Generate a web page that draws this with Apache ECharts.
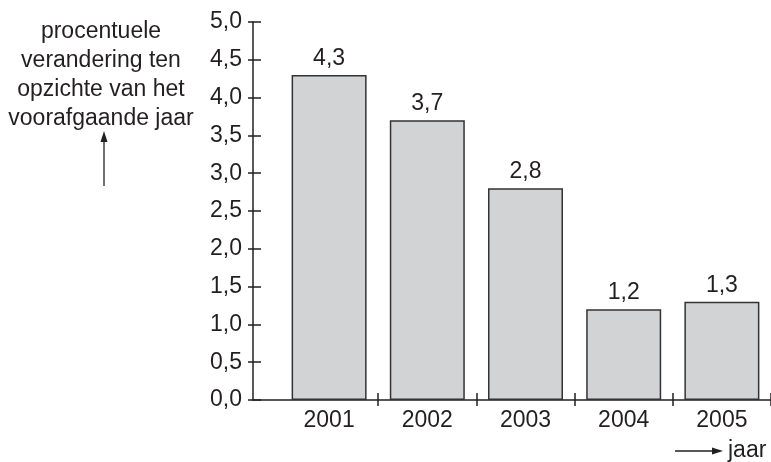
<!DOCTYPE html>
<html><head><meta charset="utf-8">
<script src="https://cdn.jsdelivr.net/npm/echarts/dist/echarts.min.js"></script>
<style>html,body{margin:0;padding:0;background:#fff}#c{width:771px;height:462px}</style>
</head><body><div id="c"></div>
<script>
const years = ['2001', '2002', '2003', '2004', '2005'];
const values = [4.3, 3.7, 2.8, 1.2, 1.3];
const yMin = 0, yMax = 5, yStep = 0.5;
const yTitleLines = ['procentuele', 'verandering ten', 'opzichte van het', 'voorafgaande jaar'];
const xTitle = 'jaar';

const FONT = "'Liberation Sans', Arial, Helvetica, sans-serif";
const FS = 23;
const INK = '#231f20';
const fmt = v => Number(v).toFixed(1).replace('.', ',');

const chart = echarts.init(document.getElementById('c'), null, {renderer: 'canvas'});
const axisLine = {show: true, lineStyle: {color: INK, width: 1.5}};

chart.setOption({
  animation: false,
  backgroundColor: '#fff',
  textStyle: {fontFamily: FONT, color: INK},
  grid: [
    {left: 253, right: 0, top: 22, bottom: 62, containLabel: false},
    {left: 280, right: -2, top: 22, bottom: 62, containLabel: false}
  ],
  xAxis: [
    {gridIndex: 0, type: 'value', position: 'bottom', min: 0, max: 1, axisLine: axisLine, axisTick: {show: false}, axisLabel: {show: false}, splitLine: {show: false}},
    {gridIndex: 1, type: 'category', position: 'bottom', data: years, boundaryGap: true,
     axisLine: {show: false},
     axisTick: {show: true, inside: true, length: 7, lineStyle: {color: INK, width: 1.5}, interval: (i) => i > 0},
     axisLabel: {show: true, margin: 9, fontSize: FS, fontFamily: FONT, color: INK},
     splitLine: {show: false}},
    {gridIndex: 1, type: 'category', position: 'bottom', data: years, boundaryGap: true,
     axisLine: {show: false},
     axisTick: {show: true, inside: false, length: 6, lineStyle: {color: INK, width: 1.5}, interval: (i) => i > 0},
     axisLabel: {show: false}, splitLine: {show: false}}
  ],
  yAxis: [
    {gridIndex: 0, type: 'value', position: 'left', min: yMin, max: yMax, interval: yStep,
     axisLine: axisLine,
     axisTick: {show: true, inside: false, length: 5, lineStyle: {color: INK, width: 1.5}},
     axisLabel: {show: true, margin: 11, fontSize: FS, fontFamily: FONT, color: INK, formatter: fmt},
     splitLine: {show: false}},
    {gridIndex: 0, type: 'value', position: 'left', min: yMin, max: yMax, interval: yStep,
     axisLine: {show: false},
     axisTick: {show: true, inside: true, length: 8, lineStyle: {color: INK, width: 1.5}},
     axisLabel: {show: false}, splitLine: {show: false}},
    {gridIndex: 1, type: 'value', min: yMin, max: yMax, show: false}
  ],
  series: [{
    type: 'bar',
    xAxisIndex: 1, yAxisIndex: 2,
    data: values,
    barWidth: 75,
    itemStyle: {color: '#d2d3d5', borderColor: '#333333', borderWidth: 1.5},
    label: {show: true, position: 'top', distance: 5, fontSize: FS, fontFamily: FONT, color: INK, formatter: p => fmt(p.value)}
  }],
  graphic: [
    {type: 'text', style: {text: yTitleLines.join('\n'), x: 101, y: 17, textAlign: 'center', font: FS + 'px ' + FONT, lineHeight: 29, fill: INK}},
    {type: 'line', shape: {x1: 104, y1: 186, x2: 104, y2: 140}, style: {stroke: INK, lineWidth: 1.3}},
    {type: 'polygon', shape: {points: [[104, 131], [100.5, 142], [107.5, 142]]}, style: {fill: INK}},
    {type: 'line', shape: {x1: 675, y1: 451, x2: 714, y2: 451}, style: {stroke: INK, lineWidth: 1.3}},
    {type: 'polygon', shape: {points: [[723, 451], [712, 447.5], [712, 454.5]]}, style: {fill: INK}},
    {type: 'text', style: {text: xTitle, x: 728, y: 451, textVerticalAlign: 'middle', font: FS + 'px ' + FONT, fill: INK}}
  ]
});
</script></body></html>
